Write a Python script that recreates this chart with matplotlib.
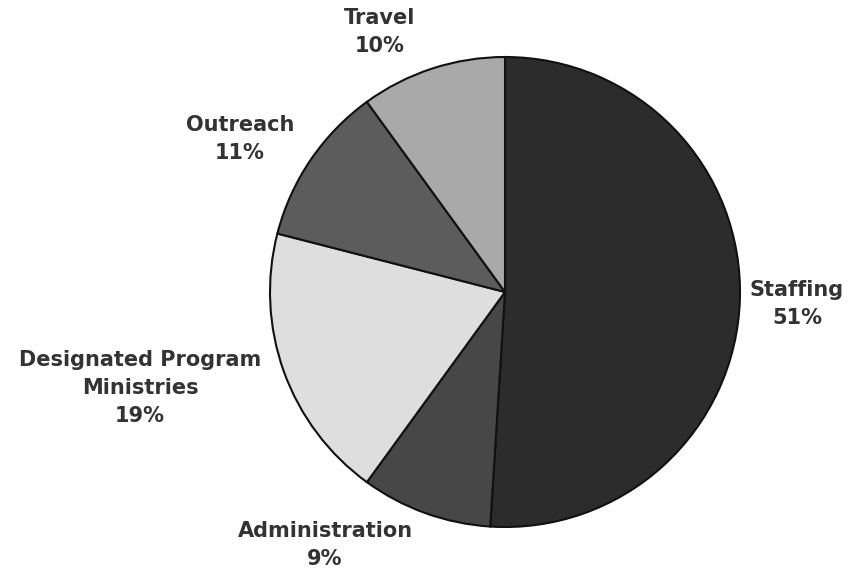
import matplotlib
matplotlib.use("Agg")
import matplotlib.pyplot as plt

categories = ["Staffing", "Administration", "Designated Program\nMinistries", "Outreach", "Travel"]
values = [51, 9, 19, 11, 10]
colors = ["#2c2c2c", "#474747", "#dedede", "#5c5c5c", "#a9a9a9"]

W, H = 861, 571
R = 235.0
cx, cy = 505.0, 292.0

fig = plt.figure(figsize=(W / 100, H / 100), dpi=100)
ax = fig.add_axes([0, 0, 1, 1])
ax.pie(values, colors=colors, startangle=90, counterclock=False, radius=1,
       wedgeprops=dict(edgecolor="#111111", linewidth=1.5))
ax.set_xlim(-cx / R, (W - cx) / R)
ax.set_ylim(-(H - cy) / R, cy / R)
ax.set_aspect("equal")
ax.axis("off")

def px(x, y):
    return (x - cx) / R, (cy - y) / R

label_pos = [(797, 304), (325, 545), (140, 388), (240, 139), (380, 32)]
for cat, v, (lx, ly) in zip(categories, values, label_pos):
    x, y = px(lx, ly)
    ax.text(x, y, f"{cat}\n{v}%", ha="center", va="center", fontsize=15,
            fontweight="bold", color="#333333", linespacing=1.5,
            family="DejaVu Sans")

fig.savefig("out.png", dpi=100)
